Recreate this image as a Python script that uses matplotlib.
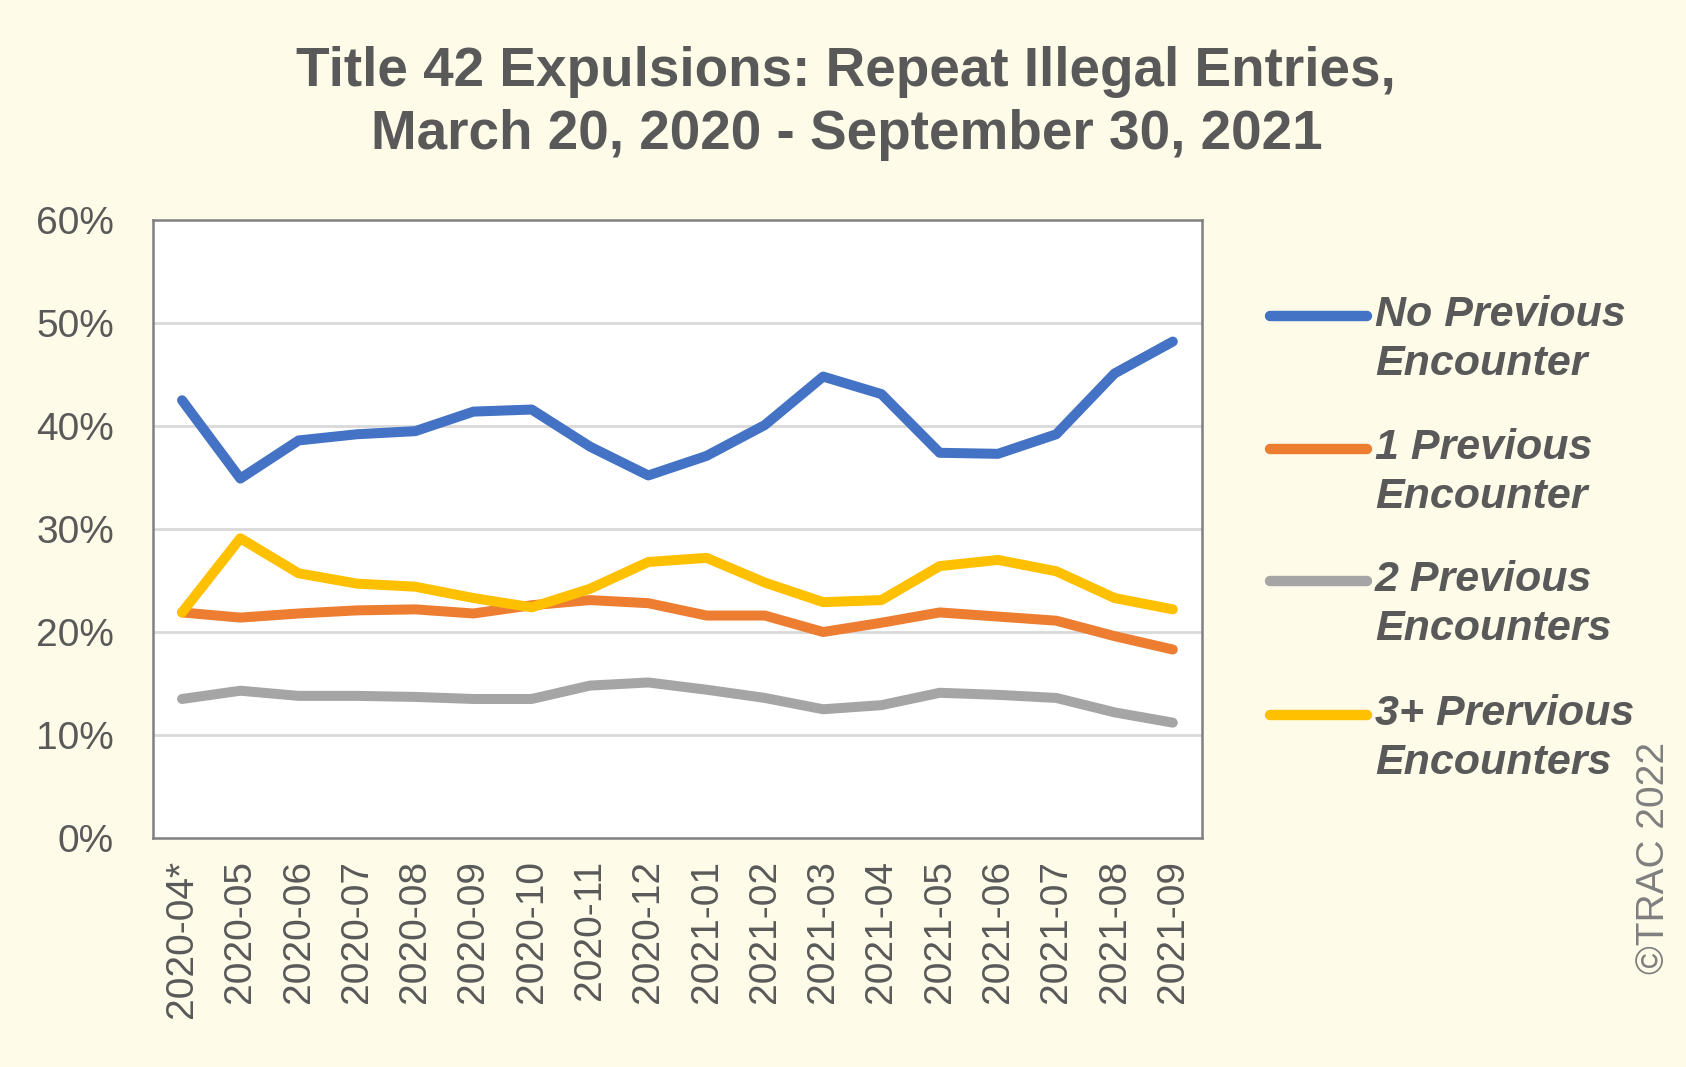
import numpy as np
import matplotlib
matplotlib.use('Agg')
import matplotlib.pyplot as plt
from matplotlib.lines import Line2D
from matplotlib.ticker import FuncFormatter

plt.rcParams['font.family'] = ['Liberation Sans', 'DejaVu Sans']

# %% data (percent of expulsions)
months = ['2020-04*', '2020-05', '2020-06', '2020-07', '2020-08', '2020-09',
          '2020-10', '2020-11', '2020-12', '2021-01', '2021-02', '2021-03',
          '2021-04', '2021-05', '2021-06', '2021-07', '2021-08', '2021-09']

no_prev = [42.5, 34.9, 38.6, 39.2, 39.5, 41.4, 41.6, 38.0, 35.2,
           37.1, 40.1, 44.8, 43.1, 37.4, 37.3, 39.2, 45.1, 48.2]
one_prev = [21.9, 21.4, 21.8, 22.1, 22.2, 21.8, 22.6, 23.1, 22.8,
            21.6, 21.6, 20.0, 20.9, 21.9, 21.5, 21.1, 19.6, 18.3]
two_prev = [13.5, 14.3, 13.8, 13.8, 13.7, 13.5, 13.5, 14.8, 15.1,
            14.4, 13.6, 12.5, 12.9, 14.1, 13.9, 13.6, 12.2, 11.2]
three_prev = [21.9, 29.1, 25.7, 24.7, 24.4, 23.3, 22.4, 24.2, 26.8,
              27.2, 24.8, 22.9, 23.1, 26.4, 27.0, 25.9, 23.3, 22.2]

series_labels = ['No Previous\nEncounter', '1 Previous\nEncounter',
                 '2 Previous\nEncounters', '3+ Prervious\nEncounters']
colors = ['#4472C4', '#ED7D31', '#A5A5A5', '#FFC000']

bg = '#FEFCE9'
txt = '#595959'

# %% figure
fig = plt.figure(figsize=(16.86, 10.67), dpi=100, facecolor=bg)
ax = fig.add_axes([0.0907, 0.2146, 0.6222, 0.5792])
ax.set_facecolor('white')

x = np.arange(len(months))
all_series = [no_prev, one_prev, two_prev, three_prev]
# draw order so yellow sits over orange like the original
for i in [2, 1, 3, 0]:
    ax.plot(x, all_series[i], color=colors[i], lw=7.2,
            solid_capstyle='round', solid_joinstyle='round', zorder=3)

ax.set_xlim(-0.5, len(months) - 0.5)
ax.set_ylim(0, 60)
ax.set_yticks(range(0, 61, 10))
ax.yaxis.set_major_formatter(FuncFormatter(lambda v, p: f'{v:.0f}%'))
ax.set_xticks(x)
ax.set_xticklabels(months, rotation=90)
ax.tick_params(axis='both', length=0, labelsize=28, colors=txt)
ax.tick_params(axis='y', pad=28)
ax.tick_params(axis='x', pad=16)

for v in range(10, 60, 10):
    ax.axhline(v, color='#D9D9D9', lw=2, zorder=1)
for s in ax.spines.values():
    s.set_color('#808080')
    s.set_linewidth(1.8)

# title
fig.text(0.502, 0.903, 'Title 42 Expulsions: Repeat Illegal Entries,\nMarch 20, 2020 - September 30, 2021',
         ha='center', va='center', fontsize=39.5, fontweight='bold', color=txt,
         linespacing=1.28)

# legend drawn by hand so the line sits at the first text line
fig_h = 1067.0
fig_w = 1686.0
legend_y = [316, 449, 581, 715]
for lab, col, yy in zip(series_labels, colors, legend_y):
    yf = 1 - yy / fig_h
    fig.add_artist(Line2D([1270 / fig_w, 1367 / fig_w], [yf, yf], color=col,
                          lw=7.5, solid_capstyle='round'))
    fig.text(1375 / fig_w, 1 - (yy - 21) / fig_h, lab, ha='left', va='top',
             fontsize=31, fontweight='bold', fontstyle='italic', color=txt,
             linespacing=1.3)

fig.text(1654 / fig_w, 1 - 858 / fig_h, '\u00a9TRAC 2022', rotation=90,
         ha='center', va='center', fontsize=28, color='#7F7F7F')

fig.savefig('out.png', dpi=100, facecolor=bg)
